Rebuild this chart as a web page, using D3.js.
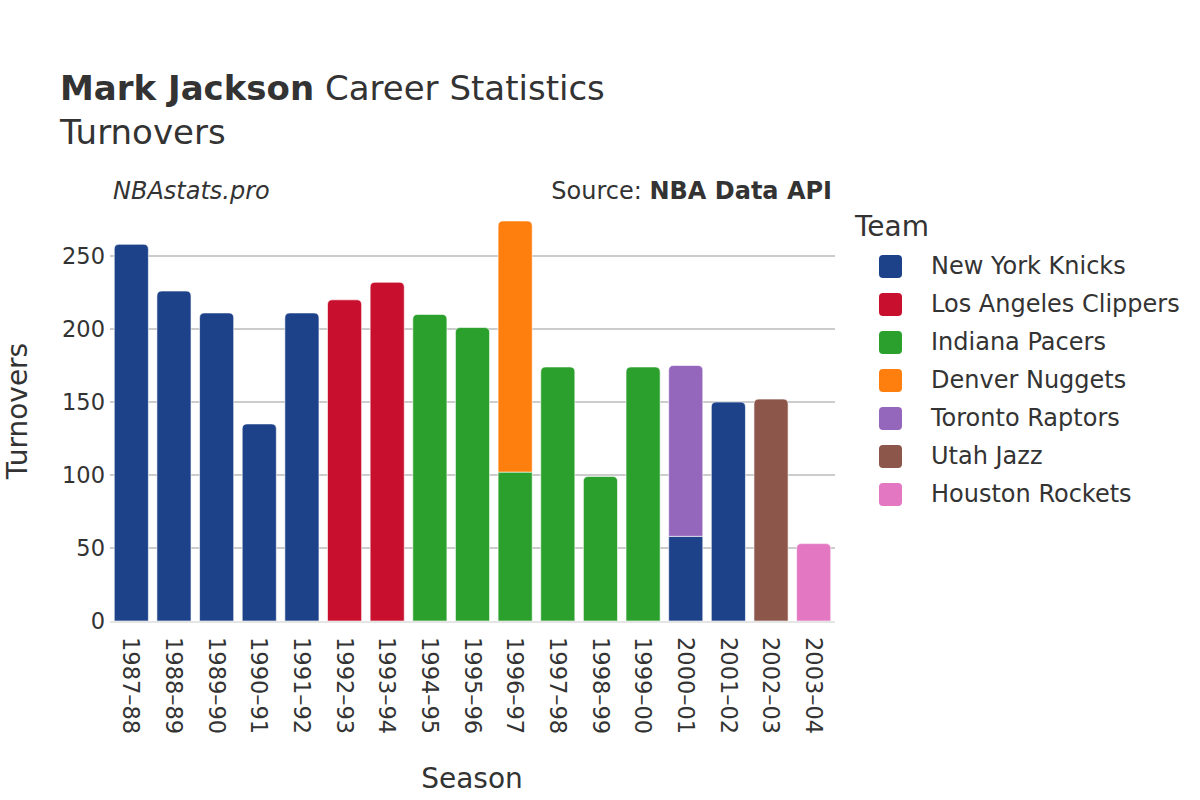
<!DOCTYPE html>
<html><head><meta charset="utf-8">
<script src="https://cdn.jsdelivr.net/npm/d3@7"></script>
<style>body{margin:0;background:#fff;}svg{font-family:"DejaVu Sans",sans-serif;}</style>
</head><body><svg id="c" width="1200" height="800"></svg>
<script>
const seasons = ["1987–88","1988–89","1989–90","1990–91","1991–92","1992–93","1993–94","1994–95","1995–96","1996–97","1997–98","1998–99","1999–00","2000–01","2001–02","2002–03","2003–04"];
const teams = ["New York Knicks","Los Angeles Clippers","Indiana Pacers","Denver Nuggets","Toronto Raptors","Utah Jazz","Houston Rockets"];
const teamColors = ["#1d4289","#c8102e","#2ca02c","#ff7f0e","#9467bd","#8c564b","#e377c2"];
// turnovers per team per season (0 = did not play for that team)
const knicks   = [258,226,211,135,211,0,0,0,0,0,0,0,0,58,150,0,0];
const clippers = [0,0,0,0,0,220,232,0,0,0,0,0,0,0,0,0,0];
const pacers   = [0,0,0,0,0,0,0,210,201,102,174,99,174,0,0,0,0];
const nuggets  = [0,0,0,0,0,0,0,0,0,172,0,0,0,0,0,0,0];
const raptors  = [0,0,0,0,0,0,0,0,0,0,0,0,0,117,0,0,0];
const jazz     = [0,0,0,0,0,0,0,0,0,0,0,0,0,0,0,152,0];
const rockets  = [0,0,0,0,0,0,0,0,0,0,0,0,0,0,0,0,53];
const yTicks = [0,50,100,150,200,250];

const series = [knicks,clippers,pacers,nuggets,raptors,jazz,rockets];
const svg = d3.select("#c");
const txt = "#333";
const L=110,R=835,B=621;
const x = d3.scaleBand().domain(seasons).range([L,R]).paddingInner(0.2).paddingOuter(0.1);
const y = d3.scaleLinear().domain([0,281]).range([B,B-281*1.46]);

// grid
svg.append("g").selectAll("line").data(yTicks.filter(d=>d>0)).join("line")
 .attr("x1",L).attr("x2",R).attr("y1",d=>y(d)).attr("y2",d=>y(d))
 .attr("stroke","#999").attr("stroke-width",1);

// y tick labels
svg.append("g").selectAll("text").data(yTicks).join("text")
 .attr("x",L-5).attr("y",d=>y(d)).attr("dy","0.35em").attr("text-anchor","end")
 .attr("font-size",22.5).attr("fill",txt).text(d=>d);

// stacked data
const rows = seasons.map((s,i)=>{const o={season:s}; teams.forEach((t,j)=>o[t]=series[j][i]); return o;});
const stack = d3.stack().keys(teams)(rows);
const topIdx = seasons.map((s,i)=>{let k=-1; teams.forEach((t,j)=>{if(series[j][i]>0)k=j;}); return k;});

function barPath(x0,x1,y0,y1,r){
  r=Math.min(r,(y0-y1));
  return `M${x0},${y0}V${y1+r}Q${x0},${y1} ${x0+r},${y1}H${x1-r}Q${x1},${y1} ${x1},${y1+r}V${y0}Z`;
}
const gb = svg.append("g");
stack.forEach((layer,j)=>{
  gb.selectAll(null).data(layer.map((d,i)=>({d,i})).filter(o=>series[j][o.i]>0)).join("path")
   .attr("d",o=>{const x0=x(seasons[o.i]),x1=x0+x.bandwidth();
      const r = topIdx[o.i]===j?5:0;
      return barPath(x0,x1,y(o.d[0]),y(o.d[1]),r);})
   .attr("fill",teamColors[j]).attr("stroke","#fff").attr("stroke-opacity",0.6).attr("stroke-width",1);
});

// zero line
svg.append("line").attr("x1",L).attr("x2",R).attr("y1",B+1).attr("y2",B+1).attr("stroke","#e5e5e5").attr("stroke-width",2);

// x tick labels
svg.append("g").selectAll("text").data(seasons).join("text")
 .attr("transform",d=>`translate(${x(d)+x.bandwidth()/2},${B+16}) rotate(90)`)
 .attr("dy","0.35em").attr("font-size",22.5).attr("fill",txt).text(d=>d);

// titles
const t1 = svg.append("text").attr("x",60).attr("y",100).attr("font-size",34).attr("fill",txt);
t1.append("tspan").attr("font-weight","bold").text("Mark Jackson");
t1.append("tspan").text(" Career Statistics");
svg.append("text").attr("x",60).attr("y",144).attr("font-size",34).attr("fill",txt).text("Turnovers");
svg.append("text").attr("x",113).attr("y",199).attr("font-size",24).attr("font-style","italic").attr("fill",txt).text("NBAstats.pro");
const src = svg.append("text").attr("x",832).attr("y",199).attr("font-size",24).attr("text-anchor","end").attr("fill",txt);
src.append("tspan").text("Source: ");
src.append("tspan").attr("font-weight","bold").text("NBA Data API");

// axis titles
svg.append("text").attr("transform","translate(17,411) rotate(-90)").attr("text-anchor","middle").attr("dy","0.35em").attr("font-size",28).attr("fill",txt).text("Turnovers");
svg.append("text").attr("x",472).attr("y",788).attr("text-anchor","middle").attr("font-size",28).attr("fill",txt).text("Season");

// legend
svg.append("text").attr("x",855).attr("y",236).attr("font-size",28).attr("fill",txt).text("Team");
const lg = svg.append("g").selectAll("g").data(teams).join("g").attr("transform",(d,i)=>`translate(0,${266+i*38})`);
lg.append("rect").attr("x",879).attr("y",-11).attr("width",23).attr("height",23).attr("rx",4).attr("fill",(d,i)=>teamColors[i]);
lg.append("text").attr("x",931).attr("dy","0.35em").attr("font-size",24).attr("fill",txt).text(d=>d);
</script></body></html>
